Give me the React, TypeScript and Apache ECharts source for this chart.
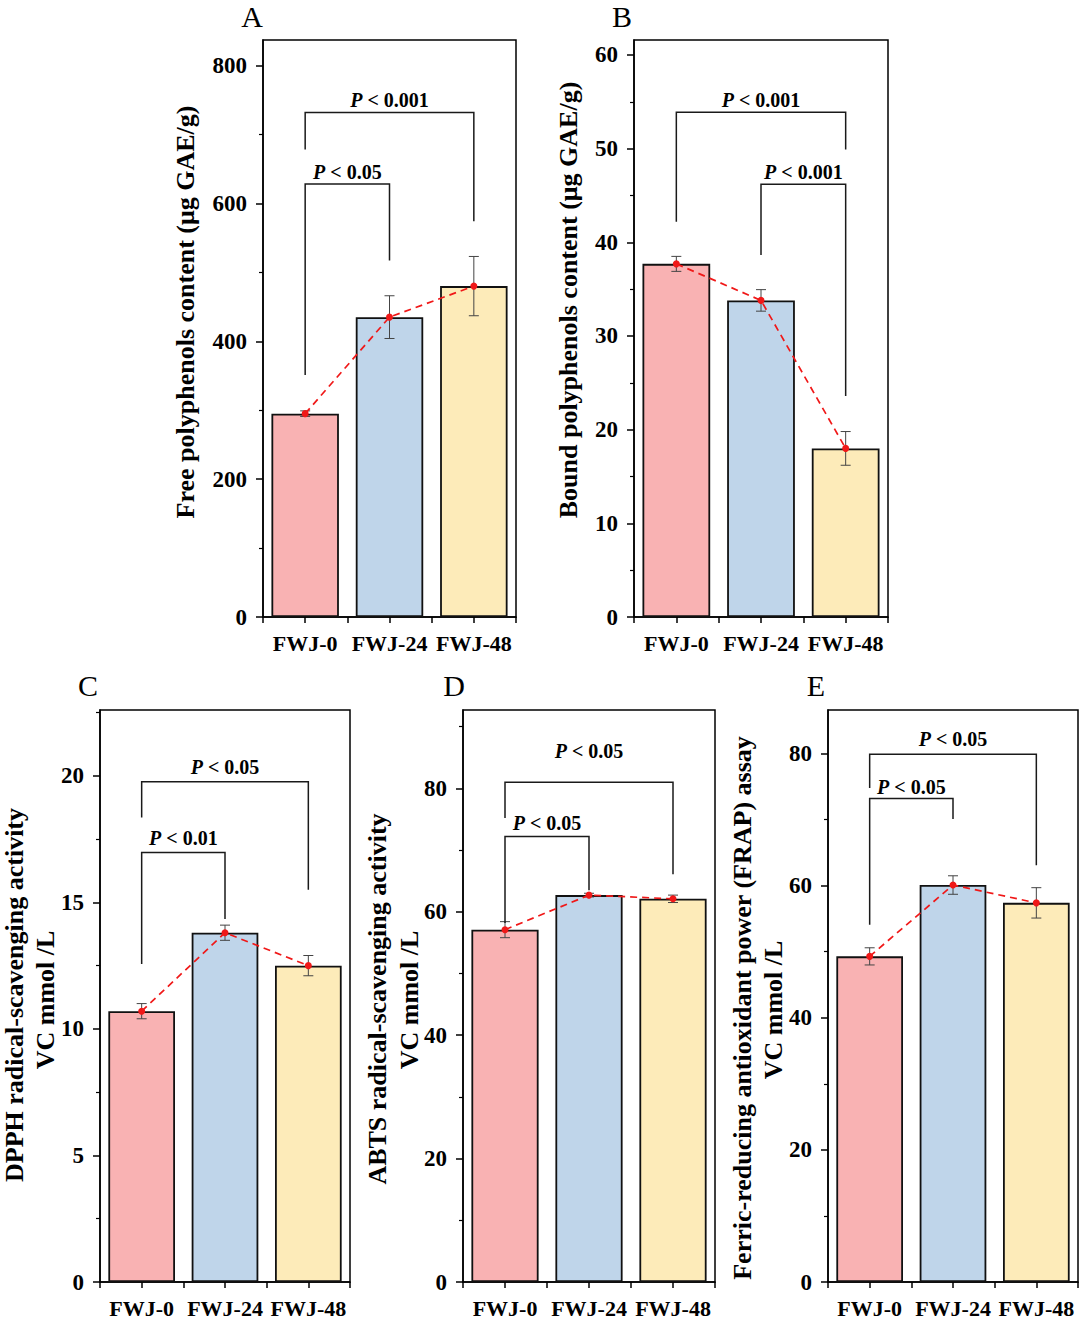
import React, { useEffect, useRef } from 'react';
import * as echarts from 'echarts';

const categories = ['FWJ-0', 'FWJ-24', 'FWJ-48'];

const freeMean = [295, 435, 480];
const freeErr = [4, 31, 43];
const boundMean = [37.7, 33.8, 18.0];
const boundErr = [0.8, 1.15, 1.8];
const dpphMean = [10.7, 13.8, 12.5];
const dpphErr = [0.3, 0.3, 0.4];
const abtsMean = [57.1, 62.7, 62.1];
const abtsErr = [1.3, 0.3, 0.6];
const frapMean = [49.3, 60.1, 57.4];
const frapErr = [1.3, 1.4, 2.3];

// significance brackets: [fromIdx, toIdx, barY, leftLegEnd, rightLegEnd, textY]
const freeBrackets = [[0, 1, 628, 351, 517, 646], [0, 2, 732, 678, 574, 750]];
const freeBracketLabels = ['P < 0.05', 'P < 0.001'];
const boundBrackets = [[0, 2, 53.9, 42.2, 49.9, 55.2], [1, 2, 46.2, 38.65, 23.6, 47.5]];
const boundBracketLabels = ['P < 0.001', 'P < 0.001'];
const dpphBrackets = [[0, 1, 16.97, 12.56, 14.34, 17.55], [0, 2, 19.77, 18.35, 15.5, 20.35]];
const dpphBracketLabels = ['P < 0.01', 'P < 0.05'];
const abtsBrackets = [[0, 1, 72.2, 58.2, 63.5, 74.4], [0, 2, 81.0, 75.2, 66.1, 86.0]];
const abtsBracketLabels = ['P < 0.05', 'P < 0.05'];
const frapBrackets = [[0, 1, 73.2, 54.1, 70.1, 75.0], [0, 2, 79.9, 74.8, 63.1, 82.2]];
const frapBracketLabels = ['P < 0.05', 'P < 0.05'];

// axis ticks
const freeTicks = [0, 200, 400, 600, 800];
const freeMinor = [100, 300, 500, 700];
const boundTicks = [0, 10, 20, 30, 40, 50, 60];
const boundMinor = [5, 15, 25, 35, 45, 55];
const dpphTicks = [0, 5, 10, 15, 20];
const dpphMinor = [2.5, 7.5, 12.5, 17.5, 22.5];
const abtsTicks = [0, 20, 40, 60, 80];
const abtsMinor = [10, 30, 50, 70, 90];
const frapTicks = [0, 20, 40, 60, 80];
const frapMinor = [10, 30, 50, 70];

const yMaxes = [837, 61.6, 22.6, 92.7, 86.6];

const panelLetters = ['A', 'B', 'C', 'D', 'E'];
const yTitles = [
  ['Free polyphenols content (μg GAE/g)'],
  ['Bound polyphenols content (μg GAE/g)'],
  ['DPPH radical-scavenging activity', 'VC mmol /L'],
  ['ABTS radical-scavenging activity', 'VC mmol /L'],
  ['Ferric-reducing antioxidant power (FRAP) assay', 'VC mmol /L'],
];

const barColors = ['#f9b2b3', '#bfd5ea', '#fdebb9'];
const FONT = "'Liberation Serif', 'Times New Roman', Times, serif";

const panels = [
  { mean: freeMean, err: freeErr, br: freeBrackets, brl: freeBracketLabels, ticks: freeTicks, minor: freeMinor },
  { mean: boundMean, err: boundErr, br: boundBrackets, brl: boundBracketLabels, ticks: boundTicks, minor: boundMinor },
  { mean: dpphMean, err: dpphErr, br: dpphBrackets, brl: dpphBracketLabels, ticks: dpphTicks, minor: dpphMinor },
  { mean: abtsMean, err: abtsErr, br: abtsBrackets, brl: abtsBracketLabels, ticks: abtsTicks, minor: abtsMinor },
  { mean: frapMean, err: frapErr, br: frapBrackets, brl: frapBracketLabels, ticks: frapTicks, minor: frapMinor },
];

const gridBoxes = [
  { left: 263, top: 40, width: 253, height: 577 },
  { left: 634, top: 40, width: 254, height: 577 },
  { left: 100, top: 710, width: 250, height: 575 },
  { left: 463, top: 710, width: 252, height: 575 },
  { left: 828, top: 710, width: 250, height: 575 },
];

const titlePos = [
  [[185, 312]],
  [[568, 300]],
  [[14, 995], [45, 1000]],
  [[377, 999], [409, 1000]],
  [[742, 1008], [773, 1010]],
];
const letterPos = [[252, 16], [622, 16], [88, 685], [454, 685], [816, 685]];

function buildOption() {
  const grid: any[] = [];
  const xAxis: any[] = [];
  const yAxis: any[] = [];
  const series: any[] = [];
  const black = { color: '#000', width: 1.5 };

  panels.forEach((p, k) => {
    grid.push({ ...gridBoxes[k], show: true, borderColor: '#000', borderWidth: 1.5 });
  });
  // main x axes
  panels.forEach((p, k) => {
    xAxis.push({
      type: 'category', gridIndex: k, data: categories, position: 'bottom', boundaryGap: true,
      axisLine: { show: true, lineStyle: black },
      axisTick: { show: true, alignWithLabel: true, length: 6, lineStyle: black },
      axisLabel: {
        interval: 0, hideOverlap: false, color: '#000', fontFamily: FONT, fontWeight: 'bold',
        fontSize: 22, margin: 15,
      },
      splitLine: { show: false },
    });
  });
  // boundary tick x axes
  panels.forEach((p, k) => {
    xAxis.push({
      type: 'category', gridIndex: k, data: categories, position: 'bottom', boundaryGap: true,
      axisLine: { show: false },
      axisTick: { show: true, alignWithLabel: false, interval: 0, length: 6, lineStyle: black },
      axisLabel: { show: false },
      splitLine: { show: false },
    });
  });
  panels.forEach((p, k) => {
    yAxis.push({
      type: 'value', gridIndex: k, min: 0, max: yMaxes[k], position: 'left',
      axisLine: { show: true, lineStyle: black },
      axisTick: { show: true, length: 7, customValues: p.ticks, lineStyle: black },
      axisLabel: {
        customValues: p.ticks, color: '#000', fontFamily: FONT, fontWeight: 'bold', fontSize: 23, margin: 16,
      },
      splitLine: { show: false },
    });
  });
  panels.forEach((p, k) => {
    yAxis.push({
      type: 'value', gridIndex: k, min: 0, max: yMaxes[k], position: 'left',
      axisLine: { show: false },
      axisTick: { show: true, length: 4, customValues: p.minor, lineStyle: { color: '#000', width: 1.2 } },
      axisLabel: { show: false },
      splitLine: { show: false },
    });
  });

  panels.forEach((p, k) => {
    series.push({
      type: 'bar', xAxisIndex: k, yAxisIndex: k, barWidth: '80%', z: 2,
      data: p.mean.map((v, i) => ({ value: v, itemStyle: { color: barColors[i] } })),
      itemStyle: { borderColor: '#111', borderWidth: 1.8 },
    });
    series.push({
      type: 'custom', xAxisIndex: k, yAxisIndex: k, z: 3,
      data: p.mean.map((v, i) => [i, v - p.err[i], v + p.err[i]]),
      encode: { x: 0, y: [1, 2] },
      renderItem: (params: any, api: any) => {
        const x = api.value(0);
        const lo = api.coord([x, api.value(1)]);
        const hi = api.coord([x, api.value(2)]);
        const w = 5;
        const st = { stroke: '#444', lineWidth: 1 };
        return {
          type: 'group',
          children: [
            { type: 'line', shape: { x1: lo[0], y1: lo[1], x2: hi[0], y2: hi[1] }, style: st },
            { type: 'line', shape: { x1: lo[0] - w, y1: lo[1], x2: lo[0] + w, y2: lo[1] }, style: st },
            { type: 'line', shape: { x1: hi[0] - w, y1: hi[1], x2: hi[0] + w, y2: hi[1] }, style: st },
          ],
        };
      },
    });
    series.push({
      type: 'line', xAxisIndex: k, yAxisIndex: k, z: 4,
      data: p.mean, symbol: 'circle', symbolSize: 7,
      itemStyle: { color: '#f01818' },
      lineStyle: { color: '#f01818', width: 1.7, type: [7, 5] },
    });
    series.push({
      type: 'custom', xAxisIndex: k, yAxisIndex: k, z: 5,
      data: p.br,
      encode: { x: [0, 1], y: [2, 3, 4, 5] },
      renderItem: (params: any, api: any) => {
        const a = api.value(0), b = api.value(1);
        const yb = api.value(2), yl = api.value(3), yr = api.value(4), yt = api.value(5);
        const p1 = api.coord([a, yl]);
        const p2 = api.coord([a, yb]);
        const p3 = api.coord([b, yb]);
        const p4 = api.coord([b, yr]);
        const pt = api.coord([a, yt]);
        const lbl = p.brl[params.dataIndex];
        const first = lbl.charAt(0);
        const rest = lbl.slice(1);
        return {
          type: 'group',
          children: [
            {
              type: 'polyline',
              shape: { points: [p1, p2, p3, p4] },
              style: { stroke: '#1a1a1a', lineWidth: 1.5, fill: null },
            },
            {
              type: 'text',
              x: (p2[0] + p3[0]) / 2,
              y: pt[1],
              style: {
                text: '{p|' + first + '}{t|' + rest + '}',
                align: 'center',
                verticalAlign: 'middle',
                rich: {
                  p: { fontFamily: FONT, fontSize: 20, fontWeight: 'bold', fontStyle: 'italic', fill: '#000' },
                  t: { fontFamily: FONT, fontSize: 20, fontWeight: 'bold', fill: '#000' },
                },
              },
            },
          ],
        };
      },
    });
  });

  const elements: any[] = [];
  yTitles.forEach((lines, k) => {
    lines.forEach((t, j) => {
      elements.push({
        type: 'text', x: titlePos[k][j][0], y: titlePos[k][j][1], rotation: Math.PI / 2,
        style: { text: t, fontFamily: FONT, fontSize: 26, fontWeight: 'bold', fill: '#000', align: 'center', verticalAlign: 'middle' },
      });
    });
  });
  panelLetters.forEach((l, k) => {
    elements.push({
      type: 'text', x: letterPos[k][0], y: letterPos[k][1],
      style: { text: l, fontFamily: FONT, fontSize: 30, fill: '#000', align: 'center', verticalAlign: 'middle' },
    });
  });

  return {
    animation: false,
    backgroundColor: '#fff',
    grid, xAxis, yAxis, series,
    graphic: { elements },
  };
}

export default function App() {
  const ref = useRef<HTMLDivElement>(null);
  useEffect(() => {
    document.body.style.margin = '0';
    const chart = echarts.init(ref.current as HTMLDivElement, undefined, { renderer: 'svg' });
    chart.setOption(buildOption() as any);
    return () => chart.dispose();
  }, []);
  return (
    <div
      ref={ref}
      style={{ width: 1080, height: 1319, position: 'absolute', left: 0, top: 0, background: '#fff' }}
    />
  );
}
